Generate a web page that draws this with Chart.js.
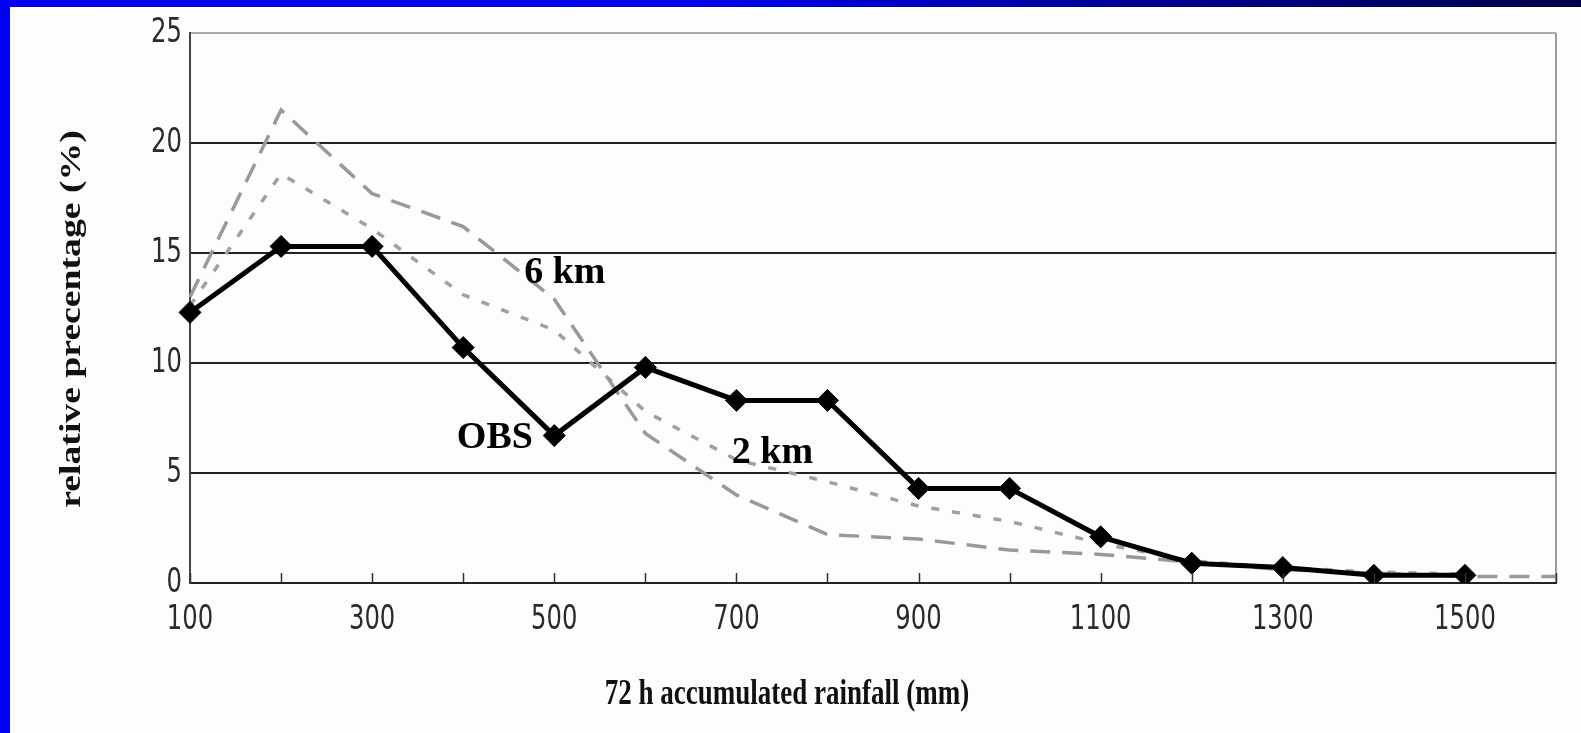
<!DOCTYPE html>
<html lang="en">
<head>
  <meta charset="UTF-8">
  <title>72 h accumulated rainfall</title>
  <script src="https://cdn.jsdelivr.net/npm/chart.js"></script>
  <style>
    html, body {
      margin: 0;
      width: 1581px;
      height: 733px;
      overflow: hidden;
      background: linear-gradient(to right, #0000f4 0%, #0000ee 45%, #000098 70%, #00004a 100%);
    }

    .panel {
      position: absolute;
      left: 10px;
      top: 7px;
      right: 0;
      bottom: 0;
      background: #fdfdfd;
    }
  </style>
</head>
<body>
  <div class="panel">
    <canvas id="rainChart"></canvas>
  </div>

  <script>
    // categories (mm) and relative percentages
    const rainfall = ['100', '200', '300', '400', '500', '600', '700', '800',
                      '900', '1000', '1100', '1200', '1300', '1400', '1500', '1600'];
    const obs = [12.3, 15.3, 15.3, 10.7, 6.7, 9.8, 8.3, 8.3, 4.3, 4.3, 2.1, 0.9, 0.7, 0.35, 0.35, null];
    const km6 = [13.0, 21.5, 17.7, 16.2, 12.9, 6.8, 4.0, 2.2, 2.0, 1.5, 1.3, 0.95, 0.6, 0.45, 0.3, 0.3];
    const km2 = [12.6, 18.6, 16.1, 13.1, 11.5, 7.8, 5.6, 4.6, 3.5, 2.8, 1.8, 1.0, 0.7, 0.5, 0.4, null];

    const tickFont = "'Liberation Sans Narrow', 'DejaVu Sans Condensed', 'Liberation Sans', sans-serif";
    const serif = "'Liberation Serif', 'DejaVu Serif', serif";

    // texts drawn inside the plot (anchored in category index / value units)
    const notes = [
      { text: '6 km', at: 3.67, val: 13.64 },
      { text: 'OBS', at: 2.93, val: 6.14 },
      { text: '2 km', at: 5.95, val: 5.45 }
    ];

    // tick labels, axis titles and notes; the source picture is stretched vertically
    const extras = {
      id: 'extras',
      afterDraw(chart) {
        const { ctx, chartArea: a, scales: { x, y } } = chart;
        ctx.save();

        // small tick marks pointing into the plot
        ctx.strokeStyle = '#333';
        ctx.lineWidth = 1.5;
        x.ticks.forEach((t, i) => {
          const px = Math.round(x.getPixelForTick(i)) + 0.5;
          ctx.beginPath();
          ctx.moveTo(px, a.bottom);
          ctx.lineTo(px, a.bottom - 10);
          ctx.stroke();
        });

        // tick labels
        ctx.fillStyle = '#2a2a2a';
        ctx.font = '27px ' + tickFont;
        ctx.textAlign = 'right';
        ctx.textBaseline = 'middle';
        y.ticks.forEach((t, i) => {
          ctx.save();
          ctx.translate(a.left - 8, y.getPixelForTick(i));
          ctx.scale(1, 1.28);
          ctx.fillText(String(t.value), 0, 0);
          ctx.restore();
        });
        ctx.textAlign = 'center';
        ctx.textBaseline = 'top';
        x.ticks.forEach((t, i) => {
          if (i % 2 !== 0) return;
          ctx.save();
          ctx.translate(x.getPixelForTick(i), a.bottom + 20);
          ctx.scale(1, 1.28);
          ctx.fillText(rainfall[i], 0, 0);
          ctx.restore();
        });

        ctx.fillStyle = '#000';
        ctx.textBaseline = 'alphabetic';
        ctx.textAlign = 'left';
        ctx.font = 'bold 38px ' + serif;
        notes.forEach(n => {
          ctx.fillText(n.text, x.getPixelForValue(n.at), y.getPixelForValue(n.val));
        });

        // axis titles
        ctx.textAlign = 'center';
        ctx.textBaseline = 'middle';
        ctx.fillStyle = '#111';

        ctx.save();
        ctx.translate(777, 688);
        ctx.scale(1, 1.3);
        ctx.font = 'bold 27px ' + serif;
        ctx.fillText('72 h accumulated rainfall (mm)', 0, 0);
        ctx.restore();

        ctx.save();
        ctx.translate(63, 312);
        ctx.rotate(-Math.PI / 2);
        ctx.scale(1.3, 1);
        ctx.font = 'bold 29px ' + serif;
        ctx.fillText('relative precentage (%)', 0, 0);
        ctx.restore();

        ctx.restore();
      }
    };

    const ctx = document.getElementById('rainChart').getContext('2d');
    const chart = new Chart(ctx, {
      type: 'line',
      data: {
        labels: rainfall,
        datasets: [
          {
            label: 'OBS', data: obs, order: 0,
            borderColor: '#000', backgroundColor: '#000', borderWidth: 5,
            pointStyle: 'rectRot', pointRadius: 11, pointBorderWidth: 1,
            tension: 0, spanGaps: false
          },
          {
            label: '6 km', data: km6, order: 1,
            borderColor: '#999999', borderWidth: 3.5, borderDash: [20, 12],
            pointRadius: 0, tension: 0
          },
          {
            label: '2 km', data: km2, order: 2,
            borderColor: '#a0a0a0', borderWidth: 3.5, borderDash: [8, 13],
            pointRadius: 0, tension: 0
          }
        ]
      },
      options: {
        responsive: true,
        maintainAspectRatio: false,
        animation: false,
        layout: { padding: { top: 26, right: 25, left: 0, bottom: 0 } },
        scales: {
          x: {
            offset: false,
            grid: {
              display: true,
              drawTicks: false,
              tickLength: 0,
              lineWidth: 2,
              color: c => c.index === rainfall.length - 1 ? '#9c9c9c' : 'rgba(0,0,0,0)'
            },
            border: { display: true, color: '#222', width: 2 },
            ticks: { display: false, autoSkip: false, maxRotation: 0 },
            afterFit: s => { s.height = 150; }
          },
          y: {
            min: 0,
            max: 25,
            grid: {
              drawTicks: false,
              lineWidth: 2,
              color: c => c.tick.value === 0 ? 'rgba(0,0,0,0)' : (c.tick.value === 25 ? '#ababab' : '#222')
            },
            border: { display: true, color: '#444', width: 2 },
            ticks: { display: false, stepSize: 5 },
            afterFit: s => { s.width = 180; }
          }
        },
        plugins: {
          legend: { display: false },
          tooltip: { enabled: false }
        }
      },
      plugins: [extras]
    });
  </script>
</body>
</html>
